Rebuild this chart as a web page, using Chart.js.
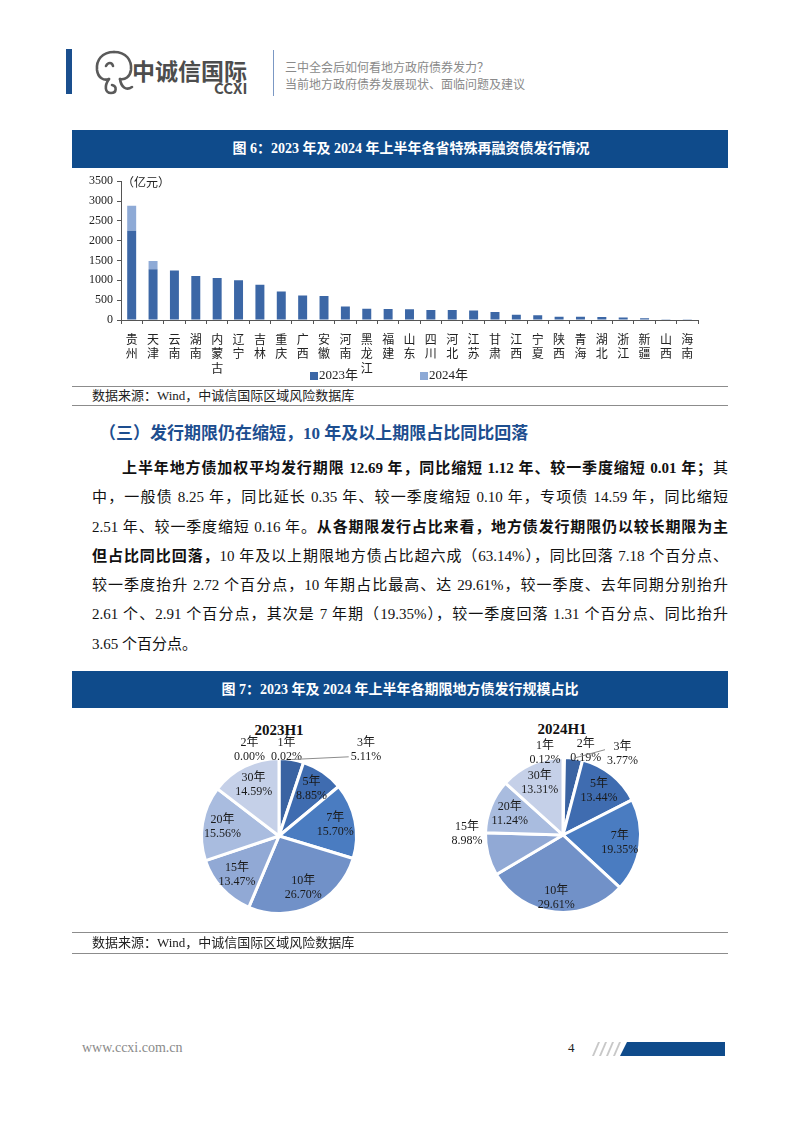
<!DOCTYPE html>
<html lang="zh-CN">
<head>
<meta charset="utf-8">
<title>图6 图7 地方政府债券</title>
<script src="https://cdn.jsdelivr.net/npm/chart.js@4.4.1/dist/chart.umd.min.js"></script>
<style>
  body { margin: 0; background: #fff; }
  #page { position: relative; width: 802px; height: 1133px; overflow: hidden;
          font-family: "Liberation Serif", "Noto Sans CJK SC", serif; color: #111; }
  .abs { position: absolute; }
  .bar-title { left: 72px; width: 656px; background: #0f4b8b; color: #fff; font-weight: bold;
               font-size: 14px; text-align: center; box-sizing: border-box; }
  .rule { left: 72px; width: 656px; height: 0; border-top: 1px solid #8c8c8c; }
  .source { left: 92px; font-size: 13px; color: #222; }
  .hd { font-family: "Noto Sans CJK SC", sans-serif; font-size: 12px; color: #8a8a8a; left: 285px; }
  #para { left: 92px; top: 454px; width: 636px; font-size: 15px; }
  .ln { height: 29.3px; line-height: 29.3px; text-align: justify; text-align-last: justify; }
  .ln.first { text-indent: 30px; }
  .ln.last { text-align-last: left; }
  .pie-title { font-weight: bold; font-size: 15px; width: 100px; text-align: center; }
</style>
</head>
<body>
<div id="page">
  <!-- header -->
  <div class="abs" style="left:66px;top:49px;width:6px;height:45px;background:#1a4f8e;"></div>
  <svg class="abs" style="left:92px;top:46px;" width="44" height="52" viewBox="0 0 44 52">
    <g fill="none" stroke="#5a5a5a" stroke-width="2.6" stroke-linecap="round">
      <path d="M22 6 C10 6 4 14 5 24 C6 32 12 35 17 33"/>
      <path d="M22 6 C34 6 40 14 39 24 C38 31 33 34 28 33"/>
      <path d="M17 33 C12 40 13 47 19 47 C25 47 25 40 20 39"/>
      <path d="M28 33 C29 41 34 45 40 41"/>
      <path d="M14 20 C16 16 20 16 21 20"/>
    </g>
  </svg>
  <div class="abs" style="left:132px;top:55px;font-family:'Noto Sans CJK SC',sans-serif;font-weight:bold;font-size:23px;line-height:30px;color:#4d4d4d;">中诚信国际</div>
  <div class="abs" style="left:214px;top:80px;font-family:'Noto Sans CJK SC',sans-serif;font-weight:bold;font-size:15px;line-height:16px;color:#4d4d4d;">CCXI</div>
  <div class="abs" style="left:273px;top:50px;width:1px;height:46px;background:#7b98c4;"></div>
  <div class="abs hd" style="top:58px;line-height:18px;">三中全会后如何看地方政府债券发力？</div>
  <div class="abs hd" style="top:75px;line-height:18px;">当前地方政府债券发展现状、面临问题及建议</div>

  <!-- figure 6 -->
  <div class="abs bar-title" style="top:130px;height:38px;line-height:38px;padding-left:22px;">图 6：2023 年及 2024 年上半年各省特殊再融资债发行情况</div>
  <div class="abs" style="left:72px;top:170px;width:656px;height:215px;">
    <canvas id="barChart" width="656" height="215"></canvas>
  </div>
  <div class="abs rule" style="top:386px;"></div>
  <div class="abs source" style="top:387px;line-height:18px;">数据来源：Wind，中诚信国际区域风险数据库</div>
  <div class="abs rule" style="top:405px;"></div>

  <!-- section text -->
  <div class="abs" style="left:99px;top:422px;font-size:17px;line-height:24px;font-weight:bold;color:#1d4e8f;">（三）发行期限仍在缩短，10 年及以上期限占比同比回落</div>
  <div id="para" class="abs">
    <div class="ln first"><b>上半年地方债加权平均发行期限 12.69 年，同比缩短 1.12 年、较一季度缩短 0.01 年；</b>其</div>
    <div class="ln">中，一般债 8.25 年，同比延长 0.35 年、较一季度缩短 0.10 年，专项债 14.59 年，同比缩短</div>
    <div class="ln">2.51 年、较一季度缩短 0.16 年。<b>从各期限发行占比来看，地方债发行期限仍以较长期限为主</b></div>
    <div class="ln"><b>但占比同比回落，</b>10 年及以上期限地方债占比超六成（63.14%），同比回落 7.18 个百分点、</div>
    <div class="ln">较一季度抬升 2.72 个百分点，10 年期占比最高、达 29.61%，较一季度、去年同期分别抬升</div>
    <div class="ln">2.61 个、2.91 个百分点，其次是 7 年期（19.35%），较一季度回落 1.31 个百分点、同比抬升</div>
    <div class="ln last">3.65 个百分点。</div>
  </div>

  <!-- figure 7 -->
  <div class="abs bar-title" style="top:671px;height:37px;line-height:37px;">图 7：2023 年及 2024 年上半年各期限地方债发行规模占比</div>
  <div class="abs pie-title" style="left:229px;top:720px;line-height:20px;">2023H1</div>
  <div class="abs pie-title" style="left:512px;top:719px;line-height:20px;">2024H1</div>
  <div class="abs" style="left:159px;top:716px;width:240px;height:240px;">
    <canvas id="pie2023" width="240" height="240"></canvas>
  </div>
  <div class="abs" style="left:443px;top:715px;width:240px;height:240px;">
    <canvas id="pie2024" width="240" height="240"></canvas>
  </div>
  <div class="abs rule" style="top:932px;"></div>
  <div class="abs source" style="top:934px;line-height:18px;">数据来源：Wind，中诚信国际区域风险数据库</div>
  <div class="abs rule" style="top:953px;"></div>

  <!-- footer -->
  <div class="abs" style="left:82px;top:1039px;font-size:14px;line-height:18px;color:#8a8a8a;">www.ccxi.com.cn</div>
  <div class="abs" style="left:568px;top:1039px;font-size:13px;line-height:18px;color:#222;">4</div>
  <svg class="abs" style="left:588px;top:1041px;" width="140" height="16" viewBox="0 0 140 16">
    <g fill="#c8c8c8">
      <polygon points="4,15 6,15 12,1 10,1"/>
      <polygon points="11,15 13,15 19,1 17,1"/>
      <polygon points="18,15 20,15 26,1 24,1"/>
      <polygon points="25,15 27,15 33,1 31,1"/>
    </g>
    <polygon points="32,15 137,15 137,1 39,1" fill="#0f4b8b"/>
  </svg>
</div>

<script>
// figure 6: special refinancing bonds by province (100 million yuan)
const provinces = ['贵州', '天津', '云南', '湖南', '内蒙古', '辽宁', '吉林', '重庆', '广西', '安徽',
  '河南', '黑龙江', '福建', '山东', '四川', '河北', '江苏', '甘肃', '江西', '宁夏',
  '陕西', '青海', '湖北', '浙江', '新疆', '山西', '海南'];
const issue2023 = [2250, 1280, 1250, 1110, 1060, 1000, 890, 720, 620, 605,
  340, 285, 275, 270, 255, 255, 240, 200, 135, 120,
  83, 83, 75, 60, 42, 8, 5];
const issue2024 = [630, 210, 0, 0, 0, 0, 0, 0, 0, 0,
  0, 0, 0, 0, 0, 0, 0, 0, 0, 0,
  0, 0, 0, 0, 0, 0, 0];
const seriesNames = ['2023年', '2024年'];
const yMax = 3500;
const yStep = 500;

// figure 7: share of issuance by maturity (%)
const terms = ['1年', '2年', '3年', '5年', '7年', '10年', '15年', '20年', '30年'];
const share2023 = [0.02, 0.00, 5.11, 8.85, 15.70, 26.70, 13.47, 15.56, 14.59];
const share2024 = [0.12, 0.19, 3.77, 13.44, 19.35, 29.61, 8.98, 11.24, 13.31];

const pieColors = ['#2c5290', '#325a98', '#3a63a2', '#3f6cb0', '#4a7cc1', '#7191c8', '#91a9d5', '#a9bcdf', '#c5d0e8'];
const serif = '"Liberation Serif", "Noto Sans CJK SC", serif';

// extra drawing for the bar chart: unit text and a spaced legend
const barExtras = {
  id: 'barExtras',
  afterDraw(chart, args, opts) {
    const { ctx, chartArea } = chart;
    ctx.save();
    ctx.textBaseline = 'middle';
    ctx.fillStyle = '#222';
    ctx.font = '12px "Noto Sans CJK SC"';
    ctx.fillText('（亿元）', chartArea.left + 1, chartArea.top + 1);
    ctx.font = '13px ' + serif;
    chart.data.datasets.forEach((ds, i) => {
      const x = chartArea.left + opts.x[i];
      ctx.fillStyle = ds.backgroundColor;
      ctx.fillRect(x, opts.y - 4, 8, 8);
      ctx.fillStyle = '#222';
      ctx.fillText(ds.label, x + 9, opts.y);
    });
    ctx.restore();
  }
};

new Chart(document.getElementById('barChart'), {
  type: 'bar',
  data: {
    labels: provinces.map(p => p.split('')),
    datasets: [
      { label: seriesNames[0], data: issue2023, backgroundColor: '#3c67a6', barPercentage: 0.42, categoryPercentage: 1 },
      { label: seriesNames[1], data: issue2024, backgroundColor: '#8eaad6', barPercentage: 0.42, categoryPercentage: 1 }
    ]
  },
  options: {
    responsive: false,
    animation: false,
    layout: { padding: { top: 10, right: 30, left: 0, bottom: 0 } },
    plugins: {
      legend: { display: false },
      tooltip: { enabled: false },
      barExtras: { x: [189, 299], y: 206 }
    },
    scales: {
      x: {
        stacked: true,
        grid: { drawOnChartArea: false, tickLength: 4, color: '#555', offset: true },
        border: { color: '#555' },
        ticks: { autoSkip: false, maxRotation: 0, padding: 8, color: '#222',
                 font: { family: 'Noto Sans CJK SC', size: 12, lineHeight: 1.2 } },
        afterFit: s => { s.height = 65; }
      },
      y: {
        stacked: true,
        min: 0,
        max: yMax,
        grid: { drawOnChartArea: false, tickLength: 4, color: '#555' },
        border: { color: '#555' },
        ticks: { stepSize: yStep, padding: 4, color: '#222', font: { family: serif, size: 12 },
                 callback: v => String(v) },
        afterFit: s => { s.width = 49; }
      }
    }
  },
  plugins: [barExtras]
});

// pie labels: inside at a radius factor, a few outside with optional leader line
const pieLabels = {
  id: 'pieLabels',
  afterDatasetsDraw(chart, args, opts) {
    const { ctx } = chart;
    const ds = chart.data.datasets[0];
    const meta = chart.getDatasetMeta(0);
    ctx.save();
    ctx.font = '12px ' + serif;
    ctx.fillStyle = '#1a1a1a';
    ctx.textAlign = 'center';
    ctx.textBaseline = 'middle';
    meta.data.forEach((arc, i) => {
      const p = arc.getProps(['x', 'y', 'startAngle', 'endAngle', 'outerRadius'], true);
      const mid = (p.startAngle + p.endAngle) / 2;
      const place = opts.place[i] || {};
      const a = mid + (place.da || 0) * Math.PI / 180;
      const r = p.outerRadius * (place.r || 0.74);
      const lx = p.x + Math.cos(a) * r;
      const ly = p.y + Math.sin(a) * r;
      const top = chart.data.labels[i];
      const bottom = ds.data[i].toFixed(2) + '%';
      if (place.line) {
        const w = Math.max(ctx.measureText(top).width, ctx.measureText(bottom).width);
        ctx.strokeStyle = '#8c8c8c';
        ctx.lineWidth = 1;
        ctx.beginPath();
        ctx.moveTo(p.x + Math.cos(mid) * p.outerRadius, p.y + Math.sin(mid) * p.outerRadius);
        ctx.lineTo(lx - w / 2 - 2, ly + (place.ly || 0));
        ctx.stroke();
      }
      ctx.fillText(top, lx, ly - 7);
      ctx.fillText(bottom, lx, ly + 7);
    });
    ctx.restore();
  }
};

function makePie(id, shares, place) {
  new Chart(document.getElementById(id), {
    type: 'pie',
    data: {
      labels: terms,
      datasets: [{ data: shares, backgroundColor: pieColors, borderColor: '#fff', borderWidth: 3 }]
    },
    options: {
      responsive: false,
      animation: false,
      layout: { padding: 41 },
      plugins: {
        legend: { display: false },
        tooltip: { enabled: false },
        pieLabels: { place: place }
      }
    },
    plugins: [pieLabels]
  });
}

makePie('pie2023', share2023, [
  { r: 1.11, da: 5 },
  { r: 1.17, da: -19 },
  { r: 1.58, da: 36, line: true, ly: 7 }
]);
makePie('pie2024', share2024, [
  { r: 1.08, da: -12.6 },
  { r: 1.13, da: 14.3 },
  { r: 1.3, da: 28.3, line: true, ly: -4 },
  {}, {}, { r: 0.82 },
  { r: 1.24, da: 15 }
]);
</script>
</body>
</html>
